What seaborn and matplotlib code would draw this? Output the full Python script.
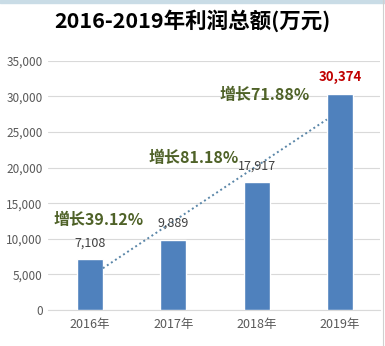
import matplotlib
matplotlib.use("Agg")
import matplotlib.pyplot as plt
import seaborn as sns
import numpy as np
import pandas as pd

years = ["2016年", "2017年", "2018年", "2019年"]
profits = [7108, 9889, 17917, 30374]
growth_labels = ["增长39.12%", "增长81.18%", "增长71.88%"]
yticks = [0, 5000, 10000, 15000, 20000, 25000, 30000, 35000]
title = "2016-2019年利润总额(万元)"

sns.set_theme(style="white")
plt.rcParams['font.family'] = ['Noto Sans CJK SC', 'DejaVu Sans']

df = pd.DataFrame({"year": years, "profit": profits})

fig = plt.figure(figsize=(3.85, 3.46), dpi=100)
ax = fig.add_axes([0.125, 0.104, 0.862, 0.72])

sns.barplot(data=df, x="year", y="profit", color="#4F81BD", saturation=1,
            width=0.31, ax=ax, zorder=3)

ax.set_ylim(0, 35000)
ax.set_xlim(-0.5, 3.48)
ax.set_yticks(yticks)
ax.set_yticklabels([f"{v:,}" for v in yticks], fontsize=8.5, color="#595959")
ax.tick_params(axis="x", labelsize=9, colors="#595959", length=0, pad=6)
ax.tick_params(axis="y", length=0, pad=4)
ax.set_xlabel("")
ax.set_ylabel("")
ax.grid(axis="y", color="#D9D9D9", linewidth=0.8, zorder=0)
for s in ["top", "right", "left"]:
    ax.spines[s].set_visible(False)
ax.spines["bottom"].set_color("#D9D9D9")
ax.spines["bottom"].set_linewidth(0.8)

# linear trendline from data
xs = np.arange(len(profits))
k, b = np.polyfit(xs, profits, 1)
x0, x1 = 0.157, 2.843
ax.plot([x0, x1], [k * x0 + b, k * x1 + b], linestyle=(0, (1, 1.5)),
        color="#5A86A8", linewidth=1.4, zorder=4)

# value labels
for i, v in enumerate(profits):
    if i == len(profits) - 1:
        ax.text(i, v + 1400, f"{v:,}", ha="center", va="bottom", fontsize=9.5,
                color="#C00000", fontweight="bold", zorder=5)
    else:
        ax.text(i, v + 1400, f"{v:,}", ha="center", va="bottom", fontsize=9,
                color="#404040", zorder=5)

# growth labels
gpos = [(0.1, 12600), (1.25, 21400), (2.1, 30200)]
for (gx, gy), lab in zip(gpos, growth_labels):
    ax.text(gx, gy, lab, ha="center", va="center", fontsize=11.5,
            color="#4F6228", fontweight="bold", zorder=5)

fig.text(0.5, 0.94, title, ha="center", va="center", fontsize=15.5,
         fontweight="bold", color="#000000")

# screenshot frame
fig.patches.append(plt.Rectangle((0, 0.99), 1, 0.01, transform=fig.transFigure,
                                 color="#C9DCE6", zorder=0))
fig.lines.append(plt.Line2D([0.995, 0.995], [0, 1], transform=fig.transFigure,
                            color="#D0D0D0", linewidth=0.8))

fig.savefig("out.png", dpi=100)
